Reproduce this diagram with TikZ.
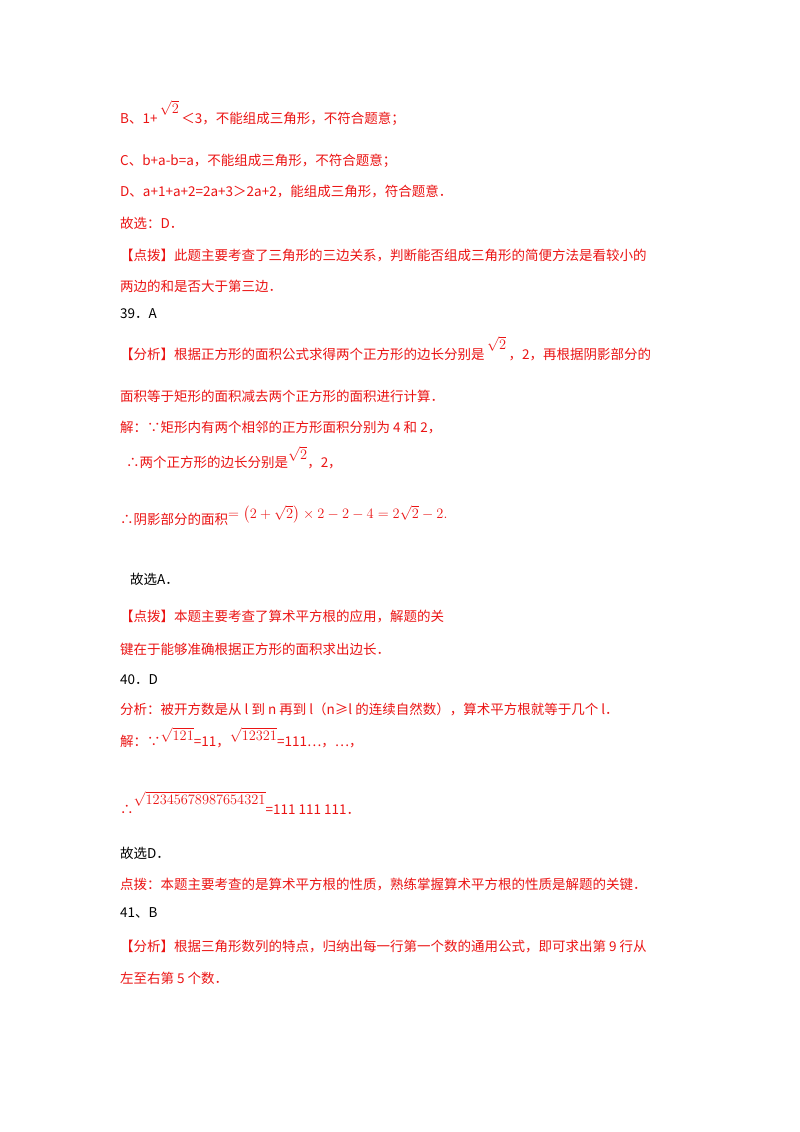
\documentclass[tikz,border=0pt]{standalone}
\usepackage{amsmath}
\usepackage{fontspec}
\setmainfont{Noto Sans CJK SC}
\newfontfamily\ser{Liberation Serif}
\definecolor{rd}{RGB}{235,20,20}
\begin{document}
\begin{tikzpicture}[x=1pt,y=1pt,
 ln/.style={anchor=base west,inner sep=0,font=\fontsize{13.5}{16}\selectfont,text=rd},
 bk/.style={ln,text=black}]
\useasboundingbox[fill=white] (0,0) rectangle (800,-1132);
\node[ln] (l1) at (120,-123) {B、1+$\,\raisebox{10pt}{$\sqrt{2}$}\,$＜3，不能组成三角形，不符合题意；};
\node[ln] (l2) at (120,-165) {C、b+a-b=a，不能组成三角形，不符合题意；};
\node[ln] (l3) at (120,-196) {D、a+1+a+2=2a+3＞2a+2，能组成三角形，符合题意．};
\node[ln] (l4) at (120,-228) {故选：D．};
\node[ln] (l5) at (120,-260) {【点拨】此题主要考查了三角形的三边关系，判断能否组成三角形的简便方法是看较小的};
\node[ln] (l6) at (120,-291) {两边的和是否大于第三边．};
\node[bk] (l7) at (120,-318) {39．A};
\node[ln] (l8) at (120,-359) {【分析】根据正方形的面积公式求得两个正方形的边长分别是$\,\raisebox{10pt}{$\sqrt{2}$}\,$，2，再根据阴影部分的};
\node[ln] (l9) at (120,-401) {面积等于矩形的面积减去两个正方形的面积进行计算．};
\node[ln] (l10) at (120,-432) {解：∵矩形内有两个相邻的正方形面积分别为 4 和 2，};
\node[ln] (l11) at (126,-467) {∴两个正方形的边长分别是$\raisebox{8pt}{$\sqrt{2}$}$，2，};
\node[ln] (l12) at (120,-524) {∴阴影部分的面积$\raisebox{6pt}{$=\left(2+\sqrt{2}\right)\times2-2-4=2\sqrt{2}-2.$}$};
\node[bk] (l13) at (130,-584) {故选A．};
\node[ln] (l14) at (120,-621) {【点拨】本题主要考查了算术平方根的应用，解题的关};
\node[ln] (l15) at (120,-654) {键在于能够准确根据正方形的面积求出边长．};
\node[bk] (l16) at (120,-684) {40．D};
\node[ln] (l17) at (120,-714) {分析：被开方数是从 l 到 n 再到 l（n≥l 的连续自然数），算术平方根就等于几个 l．};
\node[ln] (l18) at (120,-746) {解：∵$\raisebox{6pt}{$\sqrt{121}$}$=11，$\raisebox{6pt}{$\sqrt{12321}$}$=111…，⋯，};
\node[ln] (l19) at (120,-814) {∴$\raisebox{10pt}{$\sqrt{12345678987654321}$}$=111 111 111．};
\node[bk] (l20) at (120,-858) {故选D．};
\node[ln] (l21) at (120,-889) {点拨：本题主要考查的是算术平方根的性质，熟练掌握算术平方根的性质是解题的关键．};
\node[bk] (l22) at (120,-917) {41、B};
\node[ln] (l23) at (120,-951) {【分析】根据三角形数列的特点，归纳出每一行第一个数的通用公式，即可求出第 9 行从};
\node[ln] (l24) at (120,-983) {左至右第 5 个数．};
\end{tikzpicture}
\end{document}
